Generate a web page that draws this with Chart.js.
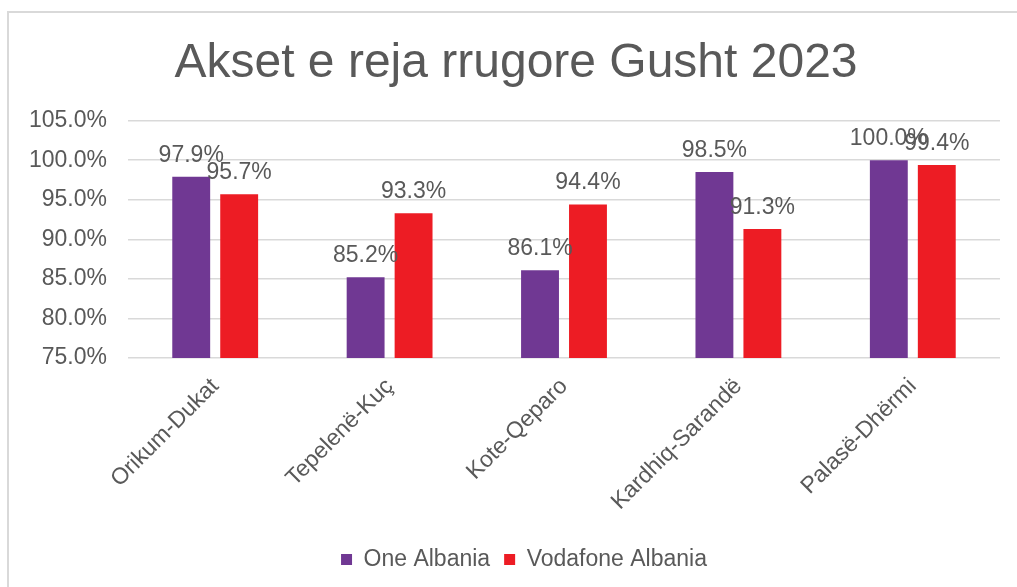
<!DOCTYPE html>
<html>
<head>
<meta charset="utf-8">
<title>Akset e reja rrugore Gusht 2023</title>
<script src="https://cdn.jsdelivr.net/npm/chart.js@4.4.1/dist/chart.umd.min.js"></script>
<style>
    html, body { margin: 0; padding: 0; background: #fff; }
    #wrap { position: relative; width: 1017px; height: 587px; }
</style>
</head>
<body>
<div id="wrap"><canvas id="chart" width="1017" height="587"></canvas></div>
<script>
// chart data
const categories = ['Orikum-Dukat', 'Tepelenë-Kuç', 'Kote-Qeparo', 'Kardhiq-Sarandë', 'Palasë-Dhërmi'];
const oneAlbania = [97.9, 85.2, 86.1, 98.5, 100.0];
const vodafoneAlbania = [95.7, 93.3, 94.4, 91.3, 99.4];
const seriesNames = ['One Albania', 'Vodafone Albania'];
const yTicks = [75, 80, 85, 90, 95, 100, 105];

const textGrey = '#595959';
const fontFamily = '"Liberation Sans", Arial, sans-serif';

// light frame round the chart, like the office chart border
const framePlugin = {
    id: 'frame',
    beforeDraw(chart) {
        const ctx = chart.ctx;
        ctx.save();
        ctx.fillStyle = '#fff';
        ctx.fillRect(0, 0, chart.width, chart.height);
        ctx.strokeStyle = '#d9d9d9';
        ctx.lineWidth = 2;
        ctx.strokeRect(8, 12, chart.width + 40, chart.height + 40);
        ctx.restore();
    }
};

// the original frame runs past the right edge, so title and legend sit a bit right of centre
const nudgePlugin = {
    id: 'nudge',
    afterLayout(chart) {
        if (chart.titleBlock) { chart.titleBlock.left += 16; chart.titleBlock.right += 16; }
        if (chart.legend) { chart.legend.left += 24; chart.legend.right += 24; }
    }
};

// value labels above each bar
const valueLabels = {
    id: 'valueLabels',
    afterDatasetsDraw(chart) {
        const ctx = chart.ctx;
        ctx.save();
        ctx.font = '23px ' + fontFamily;
        ctx.fillStyle = textGrey;
        ctx.textAlign = 'center';
        ctx.textBaseline = 'alphabetic';
        chart.data.datasets.forEach((ds, i) => {
            chart.getDatasetMeta(i).data.forEach((bar, j) => {
                ctx.fillText(ds.data[j].toFixed(1) + '%', bar.x, bar.y - 15);
            });
        });
        ctx.restore();
    }
};

const ctx = document.getElementById('chart').getContext('2d');
new Chart(ctx, {
    type: 'bar',
    data: {
        labels: categories,
        datasets: [
            { label: seriesNames[0], data: oneAlbania, backgroundColor: '#703893' },
            { label: seriesNames[1], data: vodafoneAlbania, backgroundColor: '#ed1c24' }
        ]
    },
    options: {
        responsive: false,
        animation: false,
        events: [],
        categoryPercentage: 0.55,
        barPercentage: 0.79,
        layout: { padding: { left: 0, right: 17, top: 0, bottom: 6 } },
        plugins: {
            title: {
                display: true,
                text: 'Akset e reja rrugore Gusht 2023',
                color: textGrey,
                font: { family: fontFamily, size: 48, weight: 'normal' },
                padding: { top: 35, bottom: 28 }
            },
            legend: {
                position: 'bottom',
                labels: {
                    color: textGrey,
                    font: { family: fontFamily, size: 23 },
                    boxWidth: 11,
                    boxHeight: 11,
                    padding: 14
                }
            },
            tooltip: { enabled: false }
        },
        scales: {
            x: {
                grid: { display: false, drawTicks: false },
                border: { display: false },
                ticks: {
                    color: textGrey,
                    font: { family: fontFamily, size: 23 },
                    minRotation: 45,
                    maxRotation: 45,
                    padding: 15
                },
                afterFit: scale => { scale.height = 176; }
            },
            y: {
                min: yTicks[0],
                max: yTicks[yTicks.length - 1],
                grid: { color: '#d9d9d9', lineWidth: 1.5, drawTicks: false },
                border: { display: false },
                ticks: {
                    stepSize: 5,
                    color: textGrey,
                    font: { family: fontFamily, size: 23 },
                    padding: 21,
                    callback: v => v.toFixed(1) + '%'
                },
                afterFit: scale => { scale.width = 128; }
            }
        }
    },
    plugins: [framePlugin, nudgePlugin, valueLabels]
});
</script>
</body>
</html>
